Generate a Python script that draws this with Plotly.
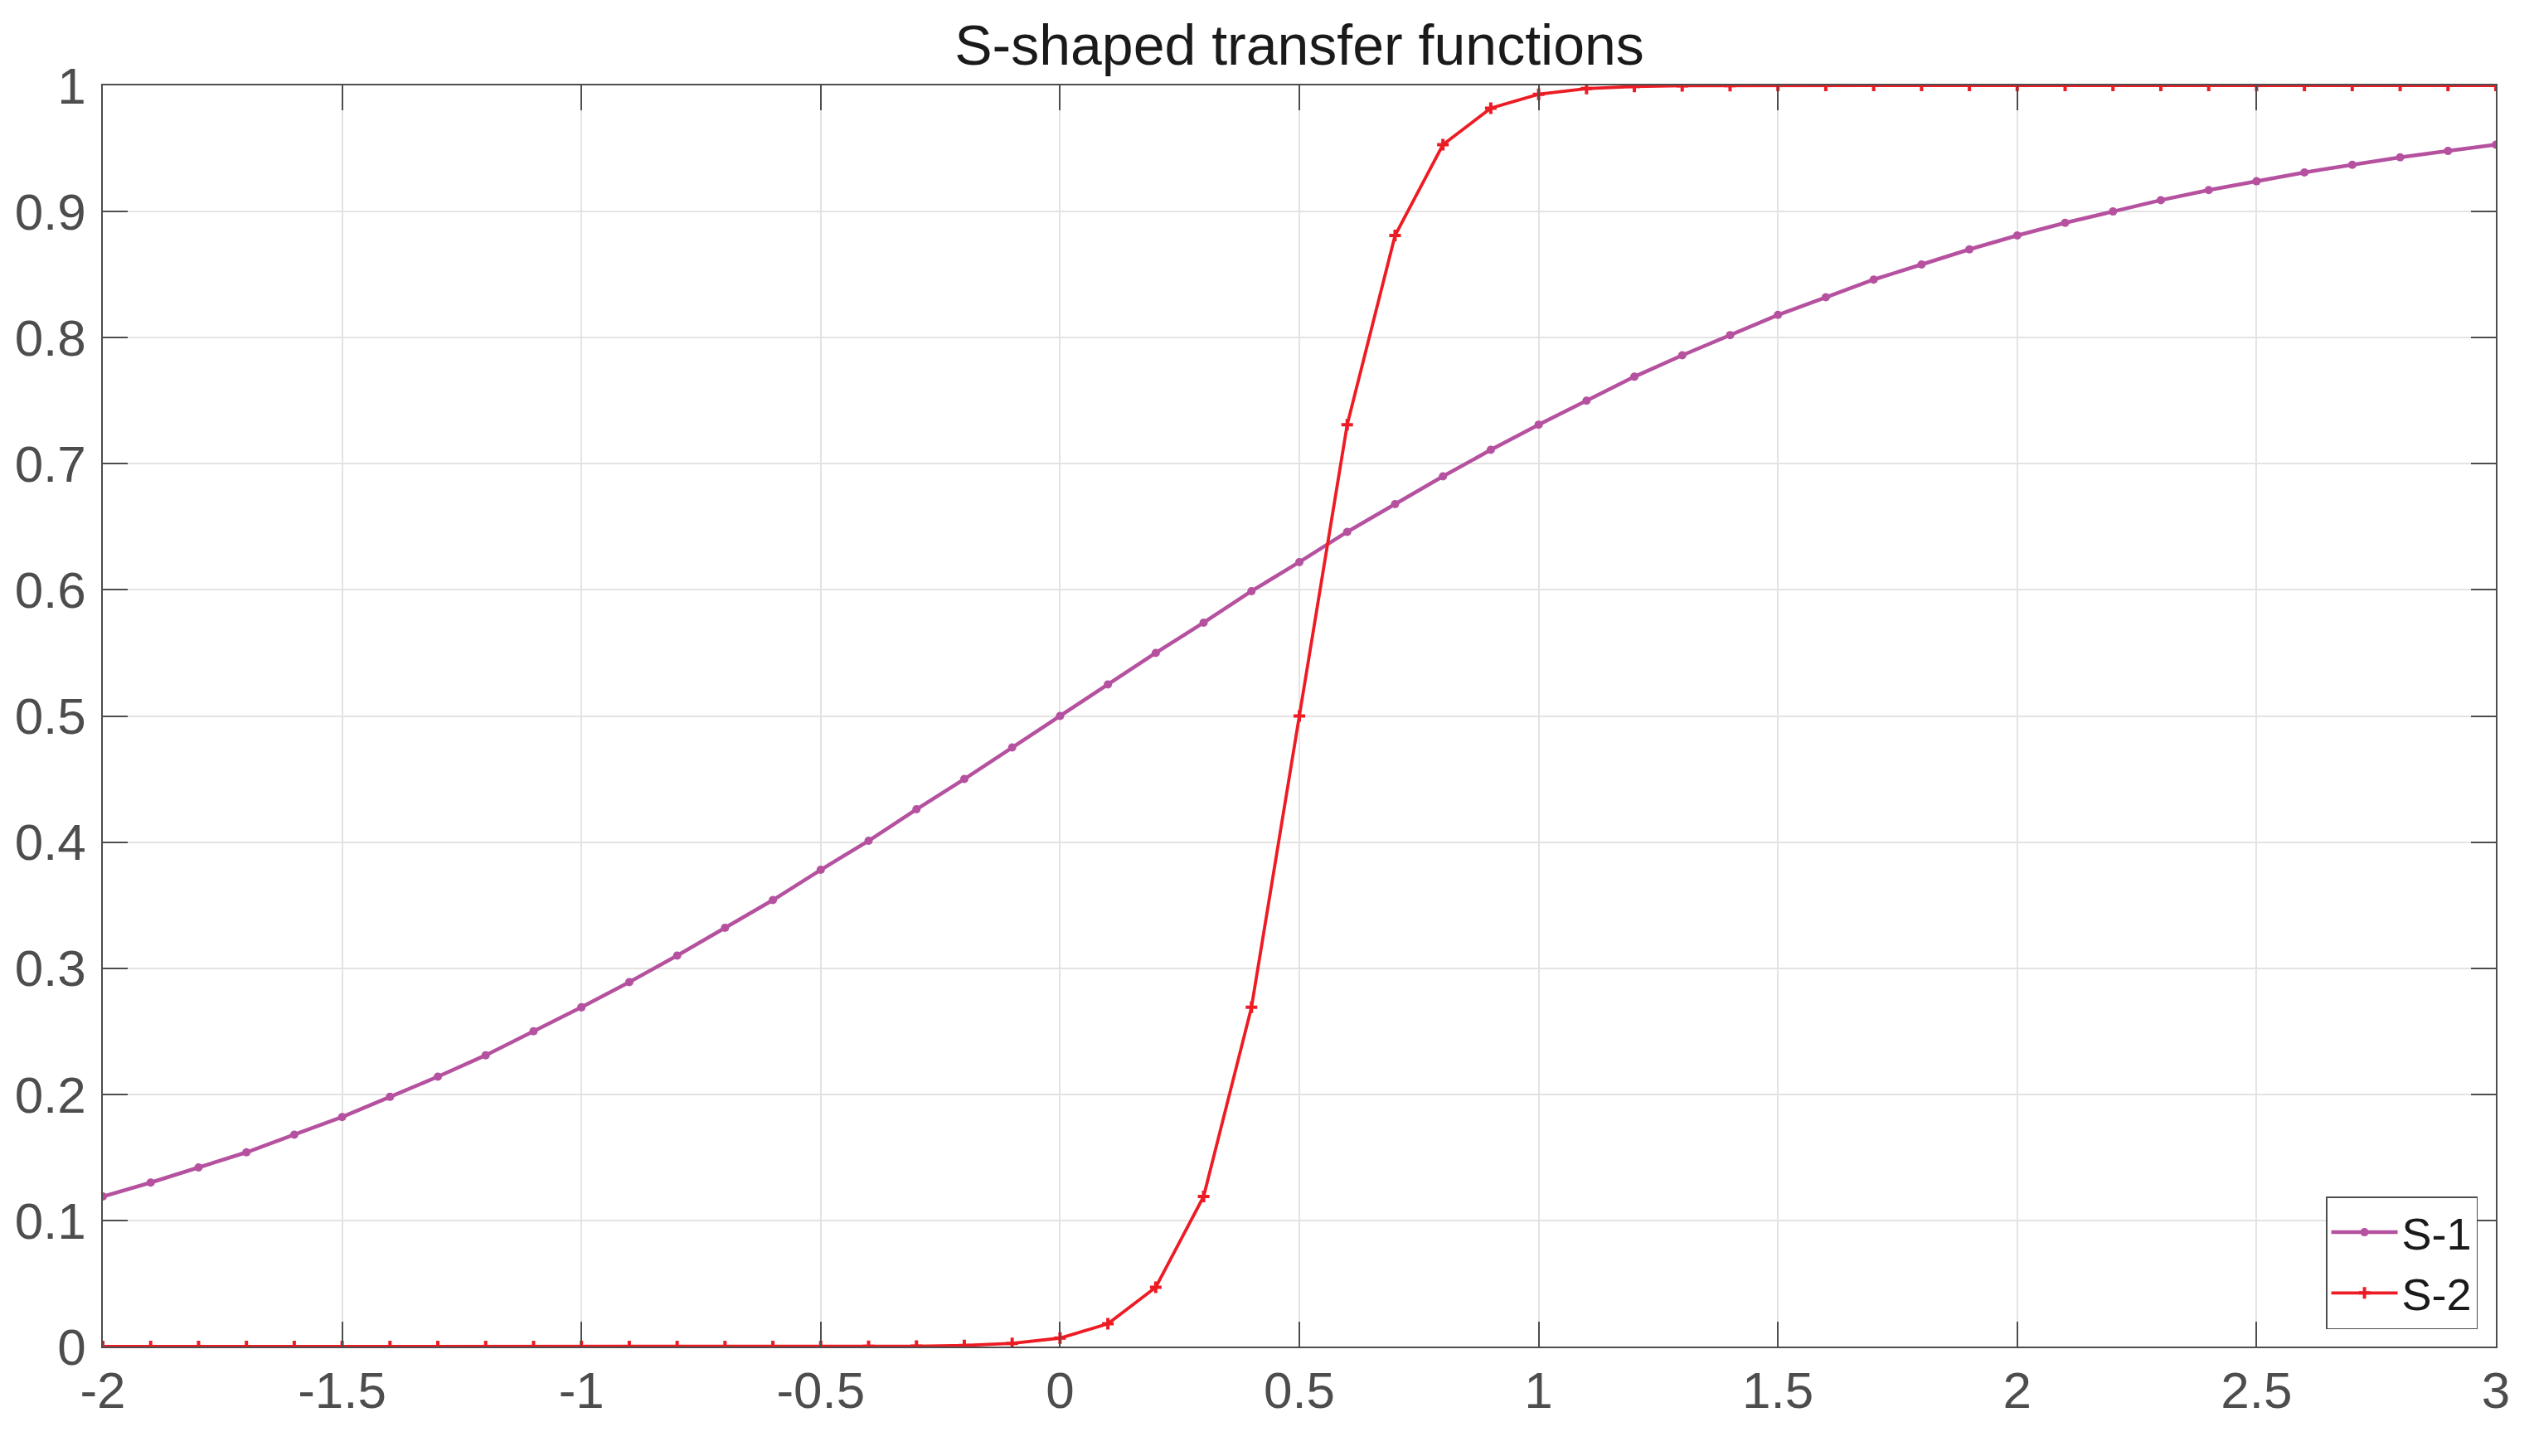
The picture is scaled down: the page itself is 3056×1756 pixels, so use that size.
import plotly.graph_objects as go

# ── Data ─────────────────────────────────────────────────────────────────────
X = [-2.0, -1.9, -1.8, -1.7, -1.6, -1.5, -1.4, -1.3, -1.2, -1.1,
     -1.0, -0.9, -0.8, -0.7, -0.6, -0.5, -0.4, -0.3, -0.2, -0.1,
     0.0, 0.1, 0.2, 0.3, 0.4, 0.5, 0.6, 0.7, 0.8, 0.9,
     1.0, 1.1, 1.2, 1.3, 1.4, 1.5, 1.6, 1.7, 1.8, 1.9,
     2.0, 2.1, 2.2, 2.3, 2.4, 2.5, 2.6, 2.7, 2.8, 2.9, 3.0]

S1 = [0.119, 0.130, 0.142, 0.154, 0.168, 0.182, 0.198, 0.214, 0.231, 0.250,
      0.269, 0.289, 0.310, 0.332, 0.354, 0.378, 0.401, 0.426, 0.450, 0.475,
      0.500, 0.525, 0.550, 0.574, 0.599, 0.622, 0.646, 0.668, 0.690, 0.711,
      0.731, 0.750, 0.769, 0.786, 0.802, 0.818, 0.832, 0.846, 0.858, 0.870,
      0.881, 0.891, 0.900, 0.909, 0.917, 0.924, 0.931, 0.937, 0.943, 0.948, 0.953]

S2 = [0.0, 0.0, 0.0, 0.0, 0.0, 0.0, 0.0, 0.0, 0.0, 0.0,
      0.0, 0.0, 0.0, 0.0, 0.0, 0.0, 0.0001, 0.0003, 0.0009, 0.0025,
      0.0067, 0.018, 0.047, 0.119, 0.269, 0.500, 0.731, 0.881, 0.953, 0.982,
      0.993, 0.9975, 0.9991, 0.9997, 0.9999, 1.0, 1.0, 1.0, 1.0, 1.0,
      1.0, 1.0, 1.0, 1.0, 1.0, 1.0, 1.0, 1.0, 1.0, 1.0, 1.0]

X_TICKS = [-2, -1.5, -1, -0.5, 0, 0.5, 1, 1.5, 2, 2.5, 3]
X_LABELS = ["-2", "-1.5", "-1", "-0.5", "0", "0.5", "1", "1.5", "2", "2.5", "3"]
Y_TICKS = [0, 0.1, 0.2, 0.3, 0.4, 0.5, 0.6, 0.7, 0.8, 0.9, 1]
Y_LABELS = ["0", "0.1", "0.2", "0.3", "0.4", "0.5", "0.6", "0.7", "0.8", "0.9", "1"]

# ── Style ────────────────────────────────────────────────────────────────────
PURPLE = "#B5519F"
RED    = "#ED1C24"
AXIS   = "#4D4D4D"
GRID   = "#E3E3E3"
FONT   = "Liberation Sans"

# page body has an 8px margin, so the figure is a little smaller than the window
W, H = 3040, 1740

fig = go.Figure()
fig.add_trace(go.Scatter(
    x=X, y=S1, name="S-1", mode="lines+markers",
    line=dict(color=PURPLE, width=4.5),
    marker=dict(symbol="circle", size=10, color=PURPLE),
))
fig.add_trace(go.Scatter(
    x=X, y=S2, name="S-2", mode="lines+markers",
    line=dict(color=RED, width=3.8),
    marker=dict(symbol="cross-thin", size=10, color=RED, line=dict(color=RED, width=4)),
))

axis_common = dict(
    showline=True, linecolor=AXIS, linewidth=1.5, mirror="ticks",
    ticks="inside", ticklen=30, tickwidth=1.5, tickcolor=AXIS,
    showgrid=True, gridcolor=GRID, gridwidth=1.5,
    zeroline=False, automargin=False,
    tickfont=dict(family=FONT, size=62, color=AXIS),
)

fig.update_layout(
    width=W, height=H,
    paper_bgcolor="white", plot_bgcolor="white",
    margin=dict(l=116, r=38, t=95, b=124),
    font=dict(family=FONT, color="#1A1A1A"),
    title=dict(
        text="S-shaped transfer functions",
        x=(116 + 3002) / 2 / W, xanchor="center",
        y=1 - 46 / H, yanchor="middle",
        font=dict(family=FONT, size=68, color="#1A1A1A"),
    ),
    xaxis=dict(range=[-2, 3], tickvals=X_TICKS, ticktext=X_LABELS,
               ticklabelstandoff=-2, **axis_common),
    yaxis=dict(range=[0, 1], tickvals=Y_TICKS, ticktext=Y_LABELS,
               ticklabelstandoff=6, **axis_common),
    legend=dict(
        x=0.9924, xanchor="right", y=0.0138, yanchor="bottom",
        bgcolor="white", bordercolor=AXIS, borderwidth=1.5,
        font=dict(family=FONT, size=54, color="#1A1A1A"),
        itemwidth=80, tracegroupgap=0,
    ),
    showlegend=True,
)

fig.write_html("out.html")
